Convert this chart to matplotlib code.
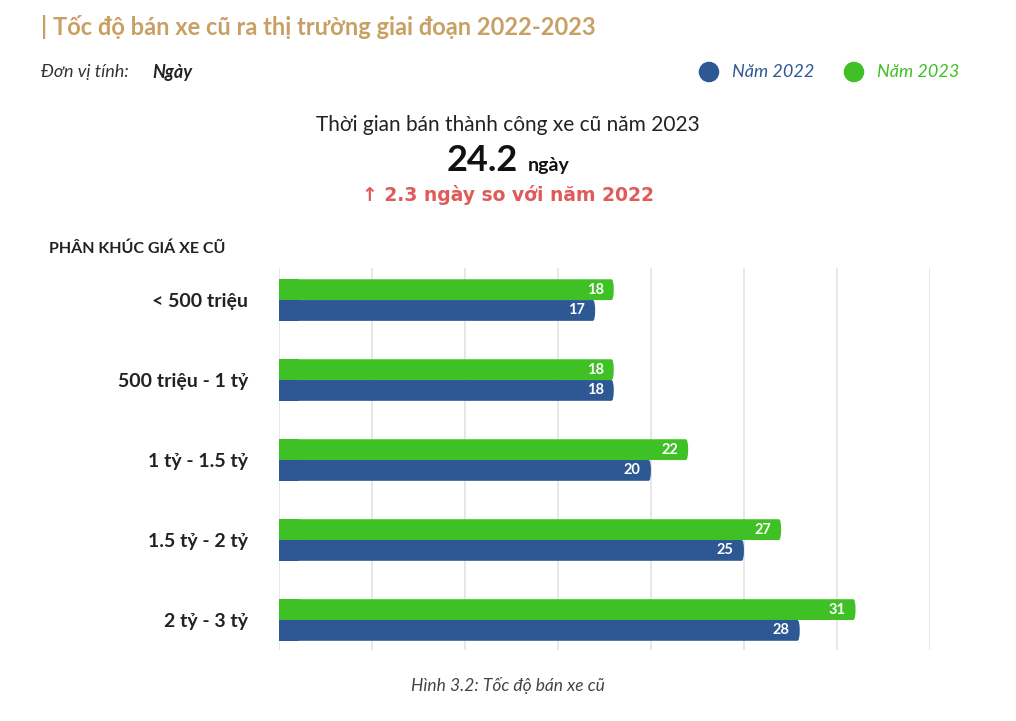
import matplotlib.pyplot as plt
import numpy as np
from matplotlib.patches import FancyBboxPatch

plt.rcParams['font.family'] = 'Lato'

categories = ['< 500 triệu', '500 triệu - 1 tỷ', '1 tỷ - 1.5 tỷ', '1.5 tỷ - 2 tỷ', '2 tỷ - 3 tỷ']
nam_2022 = [17, 18, 20, 25, 28]
nam_2023 = [18, 18, 22, 27, 31]

blue = '#2D5893'
green = '#3FC024'
h = 0.26

fig = plt.figure(figsize=(10.16, 7.21), dpi=100)
ax = fig.add_axes([0.2746, 0.0985, 0.6407, 0.5297])

y = np.arange(len(categories))

def bar(ax, yc, val, color):
    # rounded right end, square left start
    r = 0.55
    ax.add_patch(FancyBboxPatch((0, yc - h / 2), val, h,
                                boxstyle=f'round,pad=0,rounding_size={h/2}',
                                mutation_aspect=1 / (19 * 0.0125 * 80 / 1.0) if False else 1,
                                fc=color, ec='none', zorder=3))
    ax.add_patch(plt.Rectangle((0, yc - h / 2), r * 2, h, fc=color, ec='none', zorder=3))
    ax.text(val - 0.55, yc, str(val), color='white', fontsize=10.5, fontweight='bold',
            ha='right', va='center', zorder=4)

for i in y:
    bar(ax, i - h / 2, nam_2023[i], green)
    bar(ax, i + h / 2, nam_2022[i], blue)

ax.set_xlim(0, 35)
ax.set_ylim(4.375, -0.4)
ax.set_xticks(np.arange(0, 36, 5))
ax.xaxis.grid(True, color='#E3E3E3', lw=1.2, zorder=0)
ax.tick_params(axis='x', length=0, labelbottom=False)
ax.set_yticks(y)
ax.set_yticklabels(categories, fontsize=14, fontweight='bold', color='#222222')
ax.tick_params(axis='y', length=0, pad=22)
for s in ax.spines.values():
    s.set_visible(False)

fig.text(0.040, 0.962, '| Tốc độ bán xe cũ ra thị trường giai đoạn 2022-2023', fontsize=17,
         fontweight='bold', color='#C9A063', va='center')
fig.text(0.040, 0.900, 'Đơn vị tính: ', fontsize=13, style='italic', color='#333333', va='center')
fig.text(0.150, 0.900, 'Ngày', fontsize=13, style='italic', fontweight='bold', color='#222222', va='center')

ax_l = fig.add_axes([0, 0, 1, 1], facecolor='none')
ax_l.set_axis_off()
ax_l.set_xlim(0, 1016)
ax_l.set_ylim(721, 0)
ax_l.scatter([709, 854], [72, 72], s=190, c=[blue, green])
ax_l.text(732, 72, 'Năm 2022', fontsize=13, style='italic', color=blue, va='center')
ax_l.text(877, 72, 'Năm 2023', fontsize=13, style='italic', color=green, va='center')

fig.text(0.5, 0.826, 'Thời gian bán thành công xe cũ năm 2023', fontsize=15, ha='center',
         va='center', color='#222222')
fig.text(0.51, 0.777, '24.2', fontsize=26, fontweight='bold', ha='right', va='center', color='#111111')
fig.text(0.519, 0.770, 'ngày', fontsize=14, fontweight='bold', ha='left', va='center', color='#111111')
fig.text(0.5, 0.730, '↑ 2.3 ngày so với năm 2022', fontsize=13.5, fontweight='bold', ha='center',
         va='center', color='#E05A5A', fontfamily='DejaVu Sans')
fig.text(0.048, 0.655, 'PHÂN KHÚC GIÁ XE CŨ', fontsize=11.5, fontweight='bold', color='#222222',
         va='center')
fig.text(0.5, 0.049, 'Hình 3.2: Tốc độ bán xe cũ', fontsize=12.5, style='italic', ha='center',
         va='center', color='#444444')

fig.savefig('out.png', dpi=100)
